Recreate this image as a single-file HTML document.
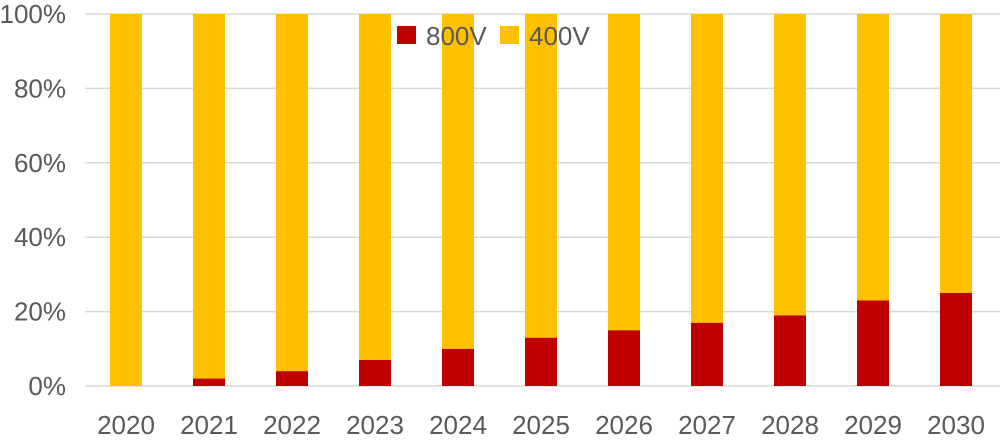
<!DOCTYPE html>
<html><head><meta charset="utf-8"><style>
body{margin:0;background:#fff;}
svg text{font-family:"Liberation Sans",sans-serif;fill:#595959;font-size:26px;}
</style></head><body>
<svg id="chart" width="1000" height="443" xmlns="http://www.w3.org/2000/svg">
<g id="grid"></g><g id="bars"></g><g id="xlabels"></g>
<g>
<rect x="397" y="26" width="19" height="18" fill="#c00000"/>
<text x="426" y="45">800V</text>
<rect x="500" y="26" width="19" height="18" fill="#ffc000"/>
<text x="529" y="45">400V</text>
</g>
</svg>
<script>
const categories=["2020","2021","2022","2023","2024","2025","2026","2027","2028","2029","2030"];
const v800=[0,2,4,7,10,13,15,17,19,23,25];
const v400=[100,98,96,93,90,87,85,83,81,77,75];
const yTicks=[0,20,40,60,80,100];
const yTickLabels=["0%","20%","40%","60%","80%","100%"];
const NS="http://www.w3.org/2000/svg";
const y=v=>386-v*3.72;
const x=i=>126+i*83;
const grid=document.getElementById('grid');
yTicks.forEach((t,i)=>{
 const l=document.createElementNS(NS,'line');
 l.setAttribute('x1',85);l.setAttribute('x2',1000);l.setAttribute('y1',y(t));l.setAttribute('y2',y(t));
 l.setAttribute('stroke','#d9d9d9');l.setAttribute('stroke-width','1.5');
 
 
 grid.appendChild(l);
 const tx=document.createElementNS(NS,'text');
 tx.setAttribute('x',66);tx.setAttribute('y',y(t)+9);tx.setAttribute('text-anchor','end');
 tx.textContent=yTickLabels[i];
 
 
 grid.appendChild(tx);
});
const bars=document.getElementById('bars'),xl=document.getElementById('xlabels');
categories.forEach((c,i)=>{
 const r1=document.createElementNS(NS,'rect');
 r1.setAttribute('x',x(i)-16);r1.setAttribute('width',32);
 r1.setAttribute('y',y(v800[i]));r1.setAttribute('height',y(0)-y(v800[i]));
 r1.setAttribute('fill','#c00000');
 
 
 bars.appendChild(r1);
 const r2=document.createElementNS(NS,'rect');
 r2.setAttribute('x',x(i)-16);r2.setAttribute('width',32);
 r2.setAttribute('y',y(v800[i]+v400[i]));r2.setAttribute('height',y(v800[i])-y(v800[i]+v400[i]));
 r2.setAttribute('fill','#ffc000');
 
 
 bars.appendChild(r2);
 const t=document.createElementNS(NS,'text');
 t.setAttribute('x',x(i));t.setAttribute('y',434);t.setAttribute('text-anchor','middle');
 t.textContent=c;
 
 
 xl.appendChild(t);
});
</script>
</body></html>
